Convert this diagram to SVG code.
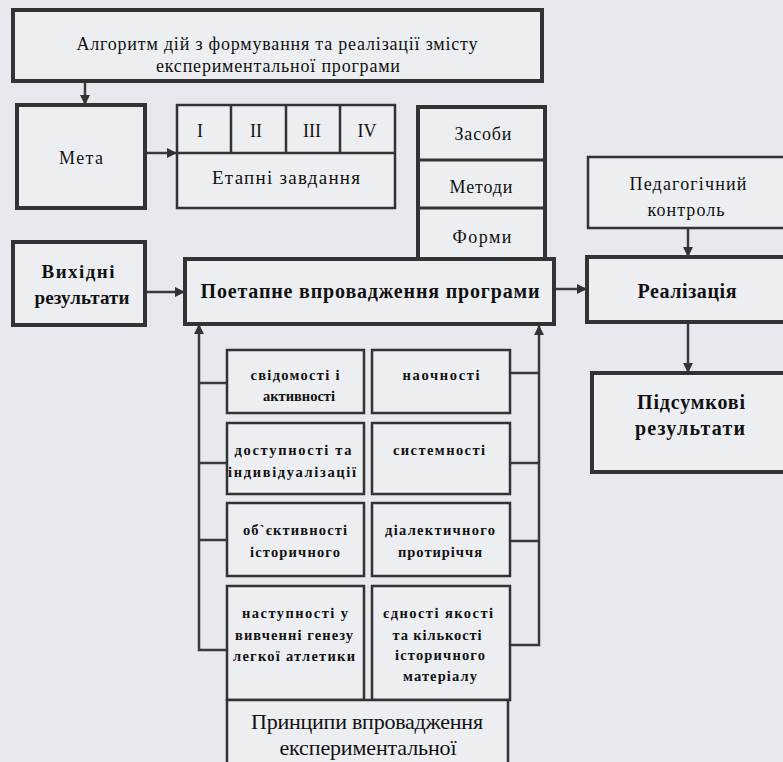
<svg xmlns="http://www.w3.org/2000/svg" width="783" height="762" viewBox="0 0 783 762" font-family="'Liberation Serif', 'DejaVu Serif', serif">
<defs>
<style>
.bg{fill:#e7e9ee}
.bx{fill:#eceef2;stroke:#333;stroke-width:2.5}
.bxT{fill:#eceef2;stroke:#333;stroke-width:4}
.ln{fill:none;stroke:#3a3a3a;stroke-width:2.5}
.dv{fill:none;stroke:#333;stroke-width:2.5}
text{fill:#111;text-anchor:middle}
.t17{font-size:18px}
.t19{font-size:19px}
.t16{font-size:18px}
.tb{font-size:20px;font-weight:bold}
.tb19{font-size:19px;font-weight:bold}
.tg{font-size:14.5px;font-weight:bold}
.tp{font-size:22px}
</style>
<marker id="ah" viewBox="0 0 10 10" refX="9" refY="5" markerWidth="4" markerHeight="4" orient="auto" markerUnits="strokeWidth">
<path d="M0,0 L10,5 L0,10 z" fill="#333"/>
</marker>
</defs>
<rect class="bg" x="0" y="0" width="783" height="762"/>

<g id="connectors">
<line class="ln" x1="85" y1="81" x2="85" y2="104" marker-end="url(#ah)"/>
<line class="ln" x1="145" y1="153" x2="176" y2="153" marker-end="url(#ah)"/>
<line class="ln" x1="145" y1="292" x2="184" y2="292" marker-end="url(#ah)"/>
<line class="ln" x1="554" y1="289" x2="586" y2="289" marker-end="url(#ah)"/>
<line class="ln" x1="688" y1="228" x2="688" y2="256" marker-end="url(#ah)"/>
<line class="ln" x1="688" y1="322" x2="688" y2="372" marker-end="url(#ah)"/>
<polyline class="ln" points="227,650 199,650 199,325" marker-end="url(#ah)"/>
<line class="ln" x1="199" y1="383" x2="227" y2="383"/>
<line class="ln" x1="199" y1="463" x2="227" y2="463"/>
<line class="ln" x1="199" y1="540" x2="227" y2="540"/>
<polyline class="ln" points="510,645 539,645 539,326" marker-end="url(#ah)"/>
<line class="ln" x1="510" y1="373" x2="539" y2="373"/>
<line class="ln" x1="510" y1="463" x2="539" y2="463"/>
<line class="ln" x1="510" y1="541" x2="539" y2="541"/>
</g>

<g id="algorithm">
<rect class="bxT" x="13" y="10" width="529" height="71"/>
<text class="t17" x="277" y="50" textLength="401">Алгоритм дій з формування та реалізації змісту</text>
<text class="t17" x="278" y="72" textLength="244">експериментальної програми</text>
</g>

<g id="meta">
<rect class="bxT" x="17" y="105" width="128" height="103"/>
<text class="t17" x="81" y="164" textLength="44">Мета</text>
</g>

<g id="etapni">
<rect class="bx" x="177" y="105" width="218" height="103"/>
<line class="dv" x1="177" y1="153" x2="395" y2="153"/>
<line class="dv" x1="231" y1="105" x2="231" y2="153"/>
<line class="dv" x1="286" y1="105" x2="286" y2="153"/>
<line class="dv" x1="340" y1="105" x2="340" y2="153"/>
<text class="t17" x="200" y="137">I</text>
<text class="t17" x="256" y="137">II</text>
<text class="t17" x="312" y="137">III</text>
<text class="t17" x="367" y="137">IV</text>
<text class="t19" x="286" y="184" textLength="148">Етапні завдання</text>
</g>

<g id="zasoby">
<rect class="bxT" x="418" y="107" width="127" height="153"/>
<line class="dv" x1="418" y1="160" x2="545" y2="160" style="stroke-width:3"/>
<line class="dv" x1="418" y1="208" x2="545" y2="208" style="stroke-width:3"/>
<text class="t16" x="483" y="140" textLength="57">Засоби</text>
<text class="t16" x="481" y="193" textLength="63">Методи</text>
<text class="t16" x="482" y="243" textLength="59">Форми</text>
</g>

<g id="pedkontrol">
<rect class="bx" x="588" y="157" width="220" height="71"/>
<text class="t16" x="688" y="190" textLength="117">Педагогічний</text>
<text class="t16" x="686" y="216" textLength="77">контроль</text>
</g>

<g id="vykhidni">
<rect class="bxT" x="13" y="242" width="132" height="83"/>
<text class="tb19" x="78" y="278" textLength="73">Вихідні</text>
<text class="tb19" x="82" y="304" textLength="95">результати</text>
</g>

<g id="poetapne">
<rect class="bxT" x="185" y="259" width="369" height="65"/>
<text class="tb" x="370" y="298" textLength="339">Поетапне впровадження програми</text>
</g>

<g id="realizatsiya">
<rect class="bxT" x="587" y="257" width="220" height="65"/>
<text class="tb" x="687" y="298" textLength="99">Реалізація</text>
</g>

<g id="pidsumkovi">
<rect class="bxT" x="592" y="373" width="215" height="99"/>
<text class="tb" x="691" y="409" textLength="108">Підсумкові</text>
<text class="tb" x="690" y="435" textLength="110">результати</text>
</g>

<g id="svidomosti">
<rect class="bx" x="227" y="350" width="137" height="63"/>
<text class="tg" x="295" y="380" textLength="89">свідомості і</text>
<text class="tg" x="299" y="401" textLength="72">активності</text>
</g>
<g id="naochnosti">
<rect class="bx" x="372" y="350" width="138" height="63"/>
<text class="tg" x="441" y="380" textLength="77">наочності</text>
</g>
<g id="dostupnosti">
<rect class="bx" x="227" y="423" width="137" height="71"/>
<text class="tg" x="293" y="455" textLength="117">доступності та</text>
<text class="tg" x="292" y="477" textLength="128">індивідуалізації</text>
</g>
<g id="systemnosti">
<rect class="bx" x="372" y="423" width="138" height="71"/>
<text class="tg" x="439" y="455" textLength="92">системності</text>
</g>
<g id="obiektyvnosti">
<rect class="bx" x="227" y="503" width="137" height="73"/>
<text class="tg" x="295" y="535" textLength="104">об`єктивності</text>
<text class="tg" x="295" y="557" textLength="90">історичного</text>
</g>
<g id="dialektychnoho">
<rect class="bx" x="372" y="503" width="138" height="73"/>
<text class="tg" x="440" y="535" textLength="110">діалектичного</text>
<text class="tg" x="440" y="557" textLength="84">протиріччя</text>
</g>
<g id="nastupnosti">
<rect class="bx" x="227" y="586" width="137" height="114"/>
<text class="tg" x="295" y="618" textLength="106">наступності у</text>
<text class="tg" x="294" y="640" textLength="118">вивченні генезу</text>
<text class="tg" x="294" y="661" textLength="122">легкої атлетики</text>
</g>
<g id="yednosti">
<rect class="bx" x="372" y="586" width="138" height="114"/>
<text class="tg" x="438" y="618" textLength="110">єдності якості</text>
<text class="tg" x="437" y="640" textLength="89">та кількості</text>
<text class="tg" x="440" y="660" textLength="90">історичного</text>
<text class="tg" x="440" y="681" textLength="74">матеріалу</text>
</g>
<g id="pryntsypy">
<rect class="bx" x="227" y="700" width="281" height="80"/>
<text class="tp" x="367" y="729" textLength="232">Принципи впровадження</text>
<text class="tp" x="368" y="755" textLength="177">експериментальної</text>
</g>
</svg>
